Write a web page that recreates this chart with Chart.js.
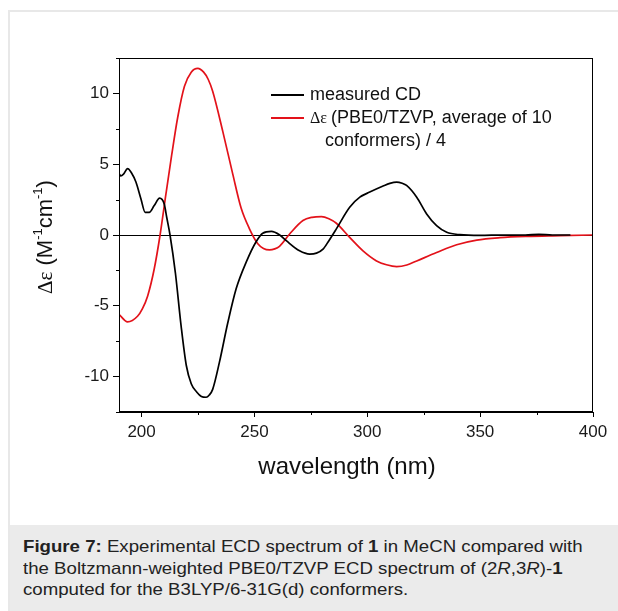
<!DOCTYPE html>
<html>
<head>
<meta charset="utf-8">
<script src="https://cdn.jsdelivr.net/npm/chart.js@4.4.0/dist/chart.umd.min.js"></script>
<style>
  body { margin: 0; background: #fff; font-family: Arial, 'Liberation Sans', sans-serif; }
  #wrap { position: relative; width: 618px; height: 611px; overflow: hidden; }
  #moldura { position: absolute; left: 8px; top: 10px; width: 640px; height: 640px; border: 2px solid #e8e8e8; box-sizing: border-box; }
  #grafico { position: absolute; left: 0; top: 0; }
  #legenda { position: absolute; left: 10px; top: 525px; right: 0; bottom: 0; background: #ebebeb; }
  #legenda div { padding: 11px 0 0 13px; font-size: 16.5px; line-height: 21.7px; color: #222;
    white-space: nowrap; transform: scaleX(1.13); transform-origin: 13px 0; }
</style>
</head>
<body>
<div id="wrap">
  <div id="moldura"></div>
  <canvas id="grafico" width="618" height="525"></canvas>
  <div id="legenda"><div>
    <b>Figure 7:</b> Experimental ECD spectrum of <b>1</b> in MeCN compared with<br>
    the Boltzmann-weighted PBE0/TZVP ECD spectrum of (2<i>R</i>,3<i>R</i>)-<b>1</b><br>
    computed for the B3LYP/6-31G(d) conformers.
  </div></div>
</div>
<script>
// espectro medido (nm, delta epsilon)
const wlMedido = [190, 190.8, 192, 193.8, 195.5, 197.5, 199.7, 201.6, 203.4, 205.6, 208, 210, 211.2, 212.6,
  215, 217.5, 219.8, 222, 224.5, 226.5, 228.6, 230, 231.5, 234.5, 238.2, 241.9, 246.4, 250.8, 253.7, 257.5,
  261.2, 264.1, 270, 274.5, 277.5, 280.4, 283, 286.3, 292.2, 296.7, 301.1, 307, 310, 313, 315.5, 317.4,
  321.9, 326.3, 330.7, 335.2, 341, 350, 360, 370, 376, 382, 390];
const cdMedido = [4.34, 4.17, 4.3, 4.69, 4.4, 3.74, 2.56, 1.6, 1.6, 2.08, 2.6, 2.2, 1.2, 0,
  -2.7, -6.4, -9.2, -10.5, -11.1, -11.4, -11.46, -11.3, -10.9, -8.98, -6.2, -3.8, -1.9, -0.46, 0.13, 0.25,
  0, -0.4, -1.12, -1.35, -1.28, -1.0, -0.4, 0.43, 1.96, 2.67, 3.03, 3.46, 3.65, 3.74, 3.65, 3.5,
  2.67, 1.49, 0.66, 0.19, 0.02, -0.03, 0, 0, 0.05, 0, 0];

// espectro calculado / 4
const wlCalc = [190, 193.8, 198.2, 200.4, 202.7, 205.6, 208.2, 210.8, 213.3, 216, 219, 222, 224.9,
  227.5, 229.5, 231.5, 236, 240.4, 244.1, 247.8, 251.5, 254, 256.7, 259, 261.1, 265.6, 271.5, 275.5, 279.7,
  283, 286.3, 292.2, 298.1, 304.1, 308.5, 313, 317.5, 321.9, 330.7, 339.6, 348.5, 358.8, 370.7, 385.5, 400];
const cdCalc = [-5.6, -6.14, -5.74, -5.2, -4.3, -2.4, 0, 2.9, 5.6, 8.3, 10.5, 11.5, 11.77,
  11.5, 11.0, 10.15, 7.3, 4.3, 1.9, 0.44, -0.62, -0.95, -1.05, -0.98, -0.8, 0.07, 1.02, 1.25, 1.3,
  1.15, 0.83, -0.17, -1.12, -1.83, -2.1, -2.23, -2.12, -1.83, -1.24, -0.69, -0.36, -0.19, -0.1, -0.05, 0];

const xTicks = [200, 250, 300, 350, 400];
const yTicks = [-10, -5, 0, 5, 10];
const xMinor = [225, 275, 325, 375];
const yMinor = [-12.5, -7.5, -2.5, 2.5, 7.5, 12.5];

const labelMedido = 'measured CD';
const labelCalc = ['(PBE0/TZVP, average of 10', 'conformers) / 4'];

const corMedido = '#000000';
const corCalc = '#e3121a';
const fonte = 'Arial, "Liberation Sans", sans-serif';

// bordas, ticks menores, titulos dos eixos e legenda
const extras = {
  id: 'extras',
  afterDraw(chart) {
    const { ctx, chartArea: a, scales: { x, y } } = chart;
    ctx.save();
    ctx.strokeStyle = '#000';
    ctx.lineWidth = 1;
    ctx.strokeRect(a.left + 0.5, a.top + 0.5, a.right - a.left - 1, a.bottom - a.top - 1);

    ctx.beginPath();
    xMinor.forEach((v) => {
      const px = Math.round(x.getPixelForValue(v)) + 0.5;
      ctx.moveTo(px, a.bottom);
      ctx.lineTo(px, a.bottom + 3);
    });
    yMinor.forEach((v) => {
      const py = Math.round(y.getPixelForValue(v)) + 0.5;
      ctx.moveTo(a.left, py);
      ctx.lineTo(a.left - 3, py);
    });
    ctx.stroke();

    // titulo x
    ctx.fillStyle = '#111';
    ctx.font = '24px ' + fonte;
    ctx.textAlign = 'center';
    ctx.textBaseline = 'middle';
    ctx.fillText('wavelength (nm)', 347, 467);

    // titulo y com sobrescritos
    const partes = [
      { t: '\u0394\u03b5', f: '21px "Liberation Serif", "DejaVu Serif", serif', dy: 0 },
      { t: ' (M', f: '22px ' + fonte, dy: 0 },
      { t: '-1', f: '13px ' + fonte, dy: -8 },
      { t: 'cm', f: '22px ' + fonte, dy: 0 },
      { t: '-1', f: '13px ' + fonte, dy: -8 },
      { t: ')', f: '22px ' + fonte, dy: 0 },
    ];
    let total = 0;
    partes.forEach((p) => { ctx.font = p.f; p.w = ctx.measureText(p.t).width; total += p.w; });
    ctx.translate(46, 237);
    ctx.rotate(-Math.PI / 2);
    ctx.textAlign = 'left';
    let pos = -total / 2;
    partes.forEach((p) => {
      ctx.font = p.f;
      ctx.fillText(p.t, pos, p.dy);
      pos += p.w;
    });
    ctx.setTransform(1, 0, 0, 1, 0, 0);

    // legenda
    ctx.lineWidth = 1.8;
    ctx.strokeStyle = corMedido;
    ctx.beginPath(); ctx.moveTo(271, 95); ctx.lineTo(304, 95); ctx.stroke();
    ctx.strokeStyle = corCalc;
    ctx.beginPath(); ctx.moveTo(271, 118); ctx.lineTo(304, 118); ctx.stroke();
    ctx.fillStyle = '#111';
    ctx.textBaseline = 'middle';
    ctx.font = '18px ' + fonte;
    ctx.fillText(labelMedido, 310, 95);
    ctx.font = '16px "Liberation Serif", "DejaVu Serif", serif';
    ctx.fillText('\u0394\u03b5', 310, 118.5);
    ctx.font = '18px ' + fonte;
    ctx.fillText(labelCalc[0], 331, 118);
    ctx.fillText(labelCalc[1], 325, 141);
    ctx.restore();
  },
};

const ctx = document.getElementById('grafico').getContext('2d');
const chart = new Chart(ctx, {
  type: 'scatter',
  data: {
    datasets: [
      {
        label: labelMedido,
        data: wlMedido.map((w, i) => ({ x: w, y: cdMedido[i] })),
        borderColor: corMedido,
        borderWidth: 1.7,
        showLine: true,
        pointRadius: 0,
        cubicInterpolationMode: 'monotone',
      },
      {
        label: '\u0394\u03b5 ' + labelCalc.join(' '),
        data: wlCalc.map((w, i) => ({ x: w, y: cdCalc[i] })),
        borderColor: corCalc,
        borderWidth: 1.7,
        showLine: true,
        pointRadius: 0,
        cubicInterpolationMode: 'monotone',
      },
    ],
  },
  options: {
    responsive: false,
    animation: false,
    layout: { padding: { left: 0, top: 58, right: 25, bottom: 0 } },
    plugins: { legend: { display: false }, tooltip: { enabled: false } },
    scales: {
      x: {
        type: 'linear',
        min: 190,
        max: 400,
        afterBuildTicks: (s) => { s.ticks = xTicks.map((v) => ({ value: v })); },
        afterFit: (s) => { s.height = 113; },
        grid: { drawOnChartArea: false, tickLength: 5, tickColor: '#000' },
        border: { color: '#000' },
        ticks: { color: '#1a1a1a', font: { family: fonte, size: 17 }, padding: 5, maxRotation: 0 },
      },
      y: {
        min: -12.5,
        max: 12.5,
        afterBuildTicks: (s) => { s.ticks = yTicks.map((v) => ({ value: v })); },
        afterFit: (s) => { s.width = 119; },
        grid: {
          color: (c) => (c.tick && c.tick.value === 0 ? '#000' : 'rgba(0,0,0,0)'),
          tickLength: 6,
          tickColor: '#000',
        },
        border: { color: '#000' },
        ticks: { color: '#1a1a1a', font: { family: fonte, size: 17 }, padding: 4 },
      },
    },
  },
  plugins: [extras],
});
</script>
</body>
</html>
